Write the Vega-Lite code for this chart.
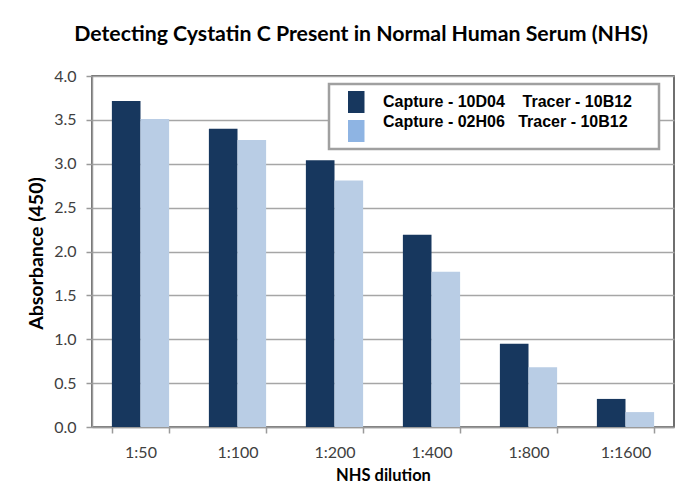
{
  "$schema": "https://vega.github.io/schema/vega-lite/v6.json",
  "autosize": {"type": "none"},
  "width": 582,
  "height": 351,
  "padding": {"left": 92, "top": 76, "right": 9, "bottom": 74},
  "background": "white",
  "title": {
    "text": "Detecting Cystatin C Present in Normal Human Serum (NHS)",
    "font": "Lato",
    "fontSize": 21.3,
    "fontWeight": "bold",
    "color": "#000000",
    "anchor": "middle",
    "baseline": "alphabetic",
    "dx": -22,
    "offset": 6
  },
  "data": {
    "values": [
      {"dilution": "1:50", "series": "Capture - 10D04\u00a0\u00a0\u00a0\u00a0Tracer - 10B12", "absorbance": 3.715},
      {"dilution": "1:50", "series": "Capture - 02H06\u00a0\u00a0\u00a0Tracer - 10B12", "absorbance": 3.51},
      {"dilution": "1:100", "series": "Capture - 10D04\u00a0\u00a0\u00a0\u00a0Tracer - 10B12", "absorbance": 3.40},
      {"dilution": "1:100", "series": "Capture - 02H06\u00a0\u00a0\u00a0Tracer - 10B12", "absorbance": 3.27},
      {"dilution": "1:200", "series": "Capture - 10D04\u00a0\u00a0\u00a0\u00a0Tracer - 10B12", "absorbance": 3.04},
      {"dilution": "1:200", "series": "Capture - 02H06\u00a0\u00a0\u00a0Tracer - 10B12", "absorbance": 2.81},
      {"dilution": "1:400", "series": "Capture - 10D04\u00a0\u00a0\u00a0\u00a0Tracer - 10B12", "absorbance": 2.19},
      {"dilution": "1:400", "series": "Capture - 02H06\u00a0\u00a0\u00a0Tracer - 10B12", "absorbance": 1.77},
      {"dilution": "1:800", "series": "Capture - 10D04\u00a0\u00a0\u00a0\u00a0Tracer - 10B12", "absorbance": 0.95},
      {"dilution": "1:800", "series": "Capture - 02H06\u00a0\u00a0\u00a0Tracer - 10B12", "absorbance": 0.68},
      {"dilution": "1:1600", "series": "Capture - 10D04\u00a0\u00a0\u00a0\u00a0Tracer - 10B12", "absorbance": 0.32},
      {"dilution": "1:1600", "series": "Capture - 02H06\u00a0\u00a0\u00a0Tracer - 10B12", "absorbance": 0.17}
    ]
  },
  "encoding": {
    "x": {
      "field": "dilution",
      "type": "nominal",
      "sort": ["1:50", "1:100", "1:200", "1:400", "1:800", "1:1600"],
      "scale": {"paddingInner": 0.41, "paddingOuter": 0.205},
      "axis": {
        "title": "NHS dilution",
        "titleFont": "Lato",
        "titleFontSize": 16.5,
        "titleFontWeight": "bold",
        "titleColor": "#000000",
        "titlePadding": 7,
        "labelFont": "Lato",
        "labelFontSize": 16,
        "labelColor": "#404040",
        "labelAngle": 0,
        "labelPadding": 11,
        "tickBand": "extent",
        "tickSize": 6,
        "tickColor": "#9A9A9A",
        "tickWidth": 1.5,
        "domainColor": "#9A9A9A",
        "domainWidth": 1.5,
        "grid": false
      }
    },
    "xOffset": {
      "field": "series",
      "type": "nominal",
      "sort": ["Capture - 10D04\u00a0\u00a0\u00a0\u00a0Tracer - 10B12", "Capture - 02H06\u00a0\u00a0\u00a0Tracer - 10B12"],
      "scale": {"paddingInner": 0, "paddingOuter": 0}
    },
    "y": {
      "field": "absorbance",
      "type": "quantitative",
      "scale": {"domain": [0, 4], "nice": false},
      "axis": {
        "title": "Absorbance (450)",
        "titleFont": "Lato",
        "titleFontSize": 19.5,
        "titleFontWeight": "bold",
        "titleColor": "#000000",
        "titlePadding": 7,
        "titleY": 177,
        "values": [0, 0.5, 1, 1.5, 2, 2.5, 3, 3.5, 4],
        "format": ".1f",
        "labelFont": "Lato",
        "labelFontSize": 16,
        "labelColor": "#404040",
        "labelPadding": 10,
        "tickSize": 6,
        "tickColor": "#9A9A9A",
        "tickWidth": 1.5,
        "domainColor": "#9A9A9A",
        "domainWidth": 1.5,
        "grid": true,
        "gridColor": "#A6A6A6",
        "gridWidth": 1.5
      }
    }
  },
  "layer": [
    {
      "mark": {"type": "bar"},
      "encoding": {
        "fill": {
          "field": "series",
          "type": "nominal",
          "sort": ["Capture - 10D04\u00a0\u00a0\u00a0\u00a0Tracer - 10B12", "Capture - 02H06\u00a0\u00a0\u00a0Tracer - 10B12"],
          "scale": {"range": ["#17375E", "#B9CDE5"]},
          "legend": null
        }
      }
    },
    {
      "mark": {"type": "bar", "opacity": 0},
      "encoding": {
        "color": {
          "field": "series",
          "type": "nominal",
          "sort": ["Capture - 10D04\u00a0\u00a0\u00a0\u00a0Tracer - 10B12", "Capture - 02H06\u00a0\u00a0\u00a0Tracer - 10B12"],
          "scale": {"range": ["#17375E", "#8EB4E3"]},
          "legend": {
            "title": "MM",
            "titleOrient": "right",
            "titleFont": "Liberation Sans",
            "titleFontSize": 10,
            "titleOpacity": 0,
            "titlePadding": 4,
            "orient": "none",
            "legendX": 237,
            "legendY": 8,
            "padding": 6,
            "strokeColor": "#A0A0A0",
            "fillColor": "white",
            "symbolType": "M0.083,-0.917H1.458V0.917H0.083Z",
            "symbolSize": 576,
            "symbolStrokeWidth": 0,
            "symbolOpacity": 1,
            "labelFont": "Liberation Sans",
            "labelFontSize": 16,
            "labelFontWeight": "bold",
            "labelColor": "#000000",
            "labelOffset": 24,
            "labelLimit": 400,
            "rowPadding": 0,
            "encode": {
              "legend": {"update": {"strokeWidth": {"value": 2.5}}},
              "labels": {"update": {"dy": {"signal": "indexof(datum.label, '02H06') >= 0 ? -9 : 0"}}}
            }
          }
        }
      }
    }
  ],
  "config": {
    "view": {"stroke": "#404040", "strokeWidth": 1.5}
  }
}
